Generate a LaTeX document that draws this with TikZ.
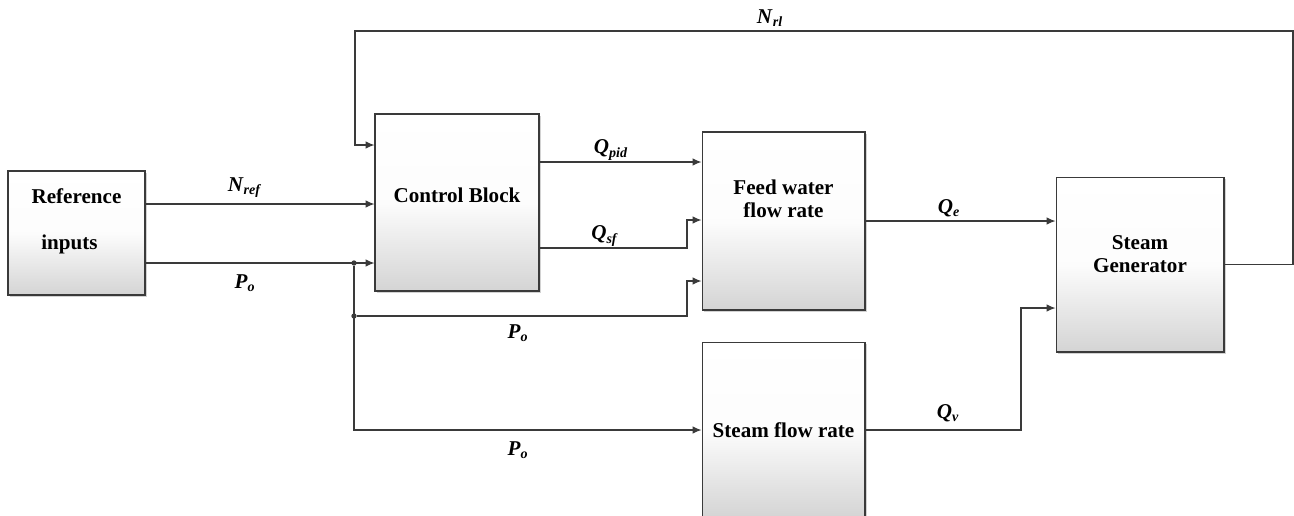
\documentclass[tikz,border=0pt]{standalone}
\usepackage{fontspec}
\setmainfont{Liberation Serif}
\usepackage{tikz}
\usetikzlibrary{positioning,arrows.meta,calc,shadows}
\definecolor{sgline}{HTML}{3A3A3A}
\definecolor{sgshade}{HTML}{D4D4D4}
\newcommand{\sgl}[2]{\textbf{\textit{#1}}\textsubscript{\textbf{\textit{#2}}}}

\begin{document}
\begin{tikzpicture}[x=0.02cm,y=-0.02cm,
  blk/.style={draw=sgline,line width=0.6pt,top color=white,bottom color=sgshade,middle color=white!94!sgshade,
    drop shadow={shadow xshift=1pt,shadow yshift=-1pt,opacity=0.35},inner sep=0pt},
  txt/.style={font=\fontsize{12}{13}\selectfont\bfseries,align=center},
  sig/.style={draw=sgline,line width=0.6pt,-{Latex[length=5pt,width=4.2pt]}},
  lbl/.style={font=\fontsize{12}{13}\selectfont},
  dot/.style={circle,fill=sgline,inner sep=0pt,minimum size=3pt}]
  \useasboundingbox[fill=white] (0,0) rectangle (1294,515);
  % blocks
  \node[blk,minimum width=2.74cm,minimum height=2.48cm,
    label={[txt,align=left,yshift=6.8pt]center:Reference\\[13pt]\hspace*{5.5pt}inputs}] (ri) at (76.5,233) {};
  \node[blk,minimum width=3.28cm,minimum height=3.54cm,
    label={[txt,yshift=4.3pt]center:Control Block}] (cb) at (457,202.5) {};
  \node[blk,minimum width=3.26cm,minimum height=3.56cm,
    label={[txt,yshift=12.5pt]center:Feed water\\flow rate}] (fw) at (783.5,221) {};
  \node[blk,minimum width=3.26cm,minimum height=3.52cm,
    label={[txt]center:Steam flow rate}] (sf) at (783.5,430) {};
  \node[blk,minimum width=3.36cm,minimum height=3.5cm,
    label={[txt,yshift=6pt]center:Steam\\Generator}] (sg) at (1140,264.5) {};
  % junctions
  \node[dot] (j1) at (354,263) {};
  \node[dot] (j2) at (354,316) {};
  \coordinate (fbr) at (1293,31);
  \coordinate (fbl) at (355,31);
  % connectors
  \draw[sig] (sg.east) -| (fbr) -- (fbl) |- (cb.west |- 0,145);
  \draw[sig] (ri.east |- 0,204) -- (cb.west |- 0,204);
  \draw[sig] (ri.east |- j1) -- (cb.west |- j1);
  \draw[sig] (j1) |- (sf.west);
  \draw[sig] (j2) -- (687,316) |- (fw.west |- 0,281);
  \draw[sig] (cb.east |- 0,162) -- (fw.west |- 0,162);
  \draw[sig] (cb.east |- 0,248) -- (687,248) |- (fw.west |- 0,220);
  \draw[sig] (fw.east) -- (sg.west |- fw.east);
  \draw[sig] (sf.east) -- (1021,430) |- (sg.west |- 0,308);
  % signal labels
  \foreach \x/\y/\t [count=\i] in {
    770/18/{\sgl{N}{rl}},
    245/188/{\sgl{N}{ref}},
    245/283/{\sgl{P}{o}},
    518/333/{\sgl{P}{o}},
    518/450/{\sgl{P}{o}},
    611/150/{\sgl{Q}{pid}},
    605/236/{\sgl{Q}{sf}},
    949/208/{\sgl{Q}{e}},
    948/413/{\sgl{Q}{v}}}
    {\node[lbl] (lab\i) at (\x,\y) {\t};}
\end{tikzpicture}
\end{document}
